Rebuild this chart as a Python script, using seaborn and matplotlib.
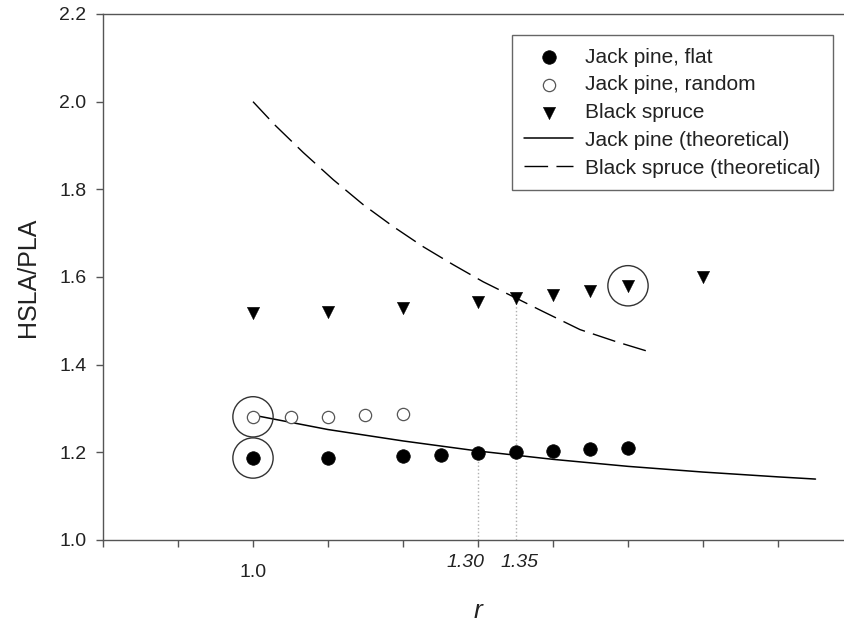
import matplotlib
matplotlib.use("Agg")
import matplotlib.pyplot as plt
import numpy as np
import seaborn as sns

sns.set_theme(style="ticks")
plt.rcParams["font.family"] = ["Liberation Sans", "DejaVu Sans"]

# measured ratios
r_flat = [1.00, 1.10, 1.20, 1.25, 1.30, 1.35, 1.40, 1.45, 1.50]
jp_flat = [1.187, 1.187, 1.192, 1.194, 1.198, 1.200, 1.203, 1.207, 1.210]

r_random = [1.00, 1.05, 1.10, 1.15, 1.20]
jp_random = [1.281, 1.281, 1.281, 1.285, 1.288]

r_spruce = [1.00, 1.10, 1.20, 1.30, 1.35, 1.40, 1.45, 1.50, 1.60]
bs = [1.518, 1.521, 1.530, 1.543, 1.553, 1.559, 1.568, 1.580, 1.600]

# theoretical curves
r_jp_theo = [1.00, 1.10, 1.20, 1.30, 1.40, 1.50, 1.60, 1.70, 1.75]
jp_theo = [1.285, 1.252, 1.226, 1.203, 1.184, 1.168, 1.155, 1.144, 1.139]

r_bs_theo = [1.000, 1.029, 1.067, 1.107, 1.147, 1.187, 1.227, 1.267, 1.307,
             1.347, 1.387, 1.436, 1.485, 1.533]
bs_theo = [2.000, 1.947, 1.884, 1.822, 1.765, 1.715, 1.669, 1.628, 1.589,
           1.555, 1.521, 1.480, 1.452, 1.427]

# highlighted points and guide lines
hl_r = [1.00, 1.00, 1.50]
hl_y = [1.281, 1.187, 1.580]
guide_r = [1.30, 1.35]
guide_top = [1.198, 1.553]

fig = plt.figure(figsize=(8.44, 6.24), dpi=100)
ax = fig.add_axes([103 / 844, 84 / 624, 750 / 844, 526 / 624])

for gx, gt in zip(guide_r, guide_top):
    ax.plot([gx, gx], [1.0, gt], ls=":", color="#b0b0b0", lw=1.0, zorder=1)

sns.lineplot(x=r_jp_theo, y=jp_theo, ax=ax, color="black", lw=1.1,
             label="Jack pine (theoretical)", zorder=2)
sns.lineplot(x=r_bs_theo, y=bs_theo, ax=ax, color="black", lw=1.0,
             linestyle=(0, (17, 6)), label="Black spruce (theoretical)", zorder=2)

sns.scatterplot(x=r_flat, y=jp_flat, ax=ax, marker="o", s=95, color="black",
                edgecolor="black", linewidth=0.5, label="Jack pine, flat", zorder=3)
sns.scatterplot(x=r_random, y=jp_random, ax=ax, marker="o", s=78, facecolor="white",
                edgecolor="#555555", linewidth=0.9, label="Jack pine, random", zorder=3)
sns.scatterplot(x=r_spruce, y=bs, ax=ax, marker="v", s=80, color="black",
                edgecolor="black", linewidth=0.3, label="Black spruce", zorder=3)

ax.scatter(hl_r, hl_y, s=29 ** 2, facecolors="none", edgecolors="#333333",
           linewidths=1.0, zorder=4)

ax.set_xlim(0.8, 1.8)
ax.set_ylim(1.0, 2.2)
ax.set_xticks(np.round(np.arange(0.8, 1.81, 0.1), 1))
ax.set_xticklabels(["1.0" if abs(t - 1.0) < 1e-9 else "" for t in np.arange(0.8, 1.81, 0.1)])
ax.set_yticks([1.0, 1.2, 1.4, 1.6, 1.8, 2.0, 2.2])
ax.set_yticklabels(["1.0", "1.2", "1.4", "1.6", "1.8", "2.0", "2.2"])
ax.tick_params(axis="both", direction="out", length=5, width=1, color="#555555",
               labelsize=14, labelcolor="#222222")
ax.tick_params(axis="x", pad=12)
ax.tick_params(axis="y", pad=7)

for side in ["left", "bottom", "top", "right"]:
    ax.spines[side].set_visible(True)
    ax.spines[side].set_color("#555555")
    ax.spines[side].set_linewidth(1.0)

for lab, dx in zip(["1.30", "1.35"], [-9, 3]):
    ax.annotate(lab, xy=(float(lab), 1.0), xytext=(dx, -16.5), textcoords="offset points",
                ha="center", va="center", fontsize=14, style="italic", color="#222222",
                annotation_clip=False)

ax.set_xlabel("r", fontsize=19, style="italic", labelpad=13, color="#222222")
ax.set_ylabel("HSLA/PLA", fontsize=18, labelpad=14, color="#222222")

handles, labels = ax.get_legend_handles_labels()
order = ["Jack pine, flat", "Jack pine, random", "Black spruce",
         "Jack pine (theoretical)", "Black spruce (theoretical)"]
hmap = dict(zip(labels, handles))
leg = ax.legend([hmap[k] for k in order], order, loc="upper right",
                bbox_to_anchor=(0.973, 0.960), borderaxespad=0, fontsize=15,
                frameon=True, fancybox=False, framealpha=1, edgecolor="#666666",
                handlelength=2.35, handletextpad=0.55, labelspacing=0.42,
                borderpad=0.6)
leg.get_frame().set_linewidth(1.0)
for t in leg.get_texts():
    t.set_color("#222222")

fig.savefig("out.png", dpi=100)
